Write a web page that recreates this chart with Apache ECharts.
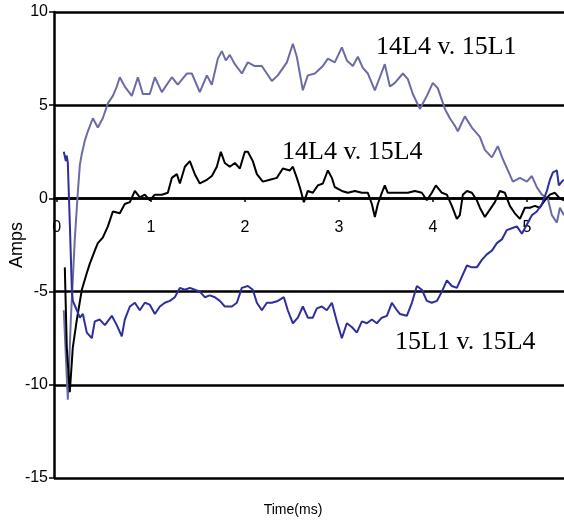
<!DOCTYPE html>
<html>
<head>
<meta charset="utf-8" />
<title>Amps</title>
<script src="https://cdn.jsdelivr.net/npm/echarts@6/dist/echarts.min.js"></script>
<style>
html,
body {
  margin: 0;
  padding: 0;
  background: #fff;
}
#main {
  width: 564px;
  height: 521px;
}
</style>
</head>
<body>
<div id="main"></div>
<script>
// 14L4 v. 15L1
var timeA = [0.074, 0.117, 0.149, 0.191, 0.223, 0.245, 0.266, 0.298, 0.330, 0.383, 0.436, 0.489, 0.543, 0.596, 0.638, 0.670, 0.723, 0.798, 0.862, 0.915, 0.989, 1.043, 1.117, 1.223, 1.287, 1.383, 1.436, 1.521, 1.596, 1.649, 1.713, 1.755, 1.798, 1.840, 1.894, 1.968, 2.032, 2.106, 2.181, 2.287, 2.351, 2.447, 2.511, 2.553, 2.617, 2.670, 2.745, 2.830, 2.883, 2.957, 3.032, 3.085, 3.149, 3.202, 3.255, 3.309, 3.383, 3.436, 3.489, 3.543, 3.596, 3.681, 3.734, 3.787, 3.862, 3.936, 4.000, 4.053, 4.128, 4.181, 4.234, 4.266, 4.340, 4.415, 4.500, 4.553, 4.628, 4.691, 4.745, 4.798, 4.851, 4.926, 5.000, 5.053, 5.106, 5.160, 5.223, 5.266, 5.319, 5.351, 5.394];
var ampA = [-6.0, -10.8, -6.5, -2.2, 0.3, 1.8, 2.4, 3.1, 3.6, 4.3, 3.8, 4.3, 5.1, 5.5, 6.0, 6.5, 6.0, 5.5, 6.5, 5.6, 5.6, 6.5, 5.7, 6.5, 6.1, 6.7, 6.7, 5.7, 6.6, 6.1, 7.5, 7.9, 7.4, 7.7, 7.2, 6.7, 7.3, 7.1, 7.1, 6.3, 6.6, 7.3, 8.3, 7.6, 5.8, 6.6, 6.7, 7.1, 7.5, 7.3, 8.1, 7.4, 7.1, 7.6, 7.0, 6.7, 5.8, 6.5, 7.2, 6.0, 6.2, 6.7, 6.4, 5.6, 4.8, 5.5, 6.2, 5.9, 4.8, 4.3, 3.9, 3.6, 4.4, 3.8, 3.3, 2.6, 2.2, 2.8, 2.1, 1.5, 0.9, 1.1, 0.9, 1.2, 0.6, 0.2, 0.0, -0.9, -1.3, -0.5, -0.9];

// 14L4 v. 15L4
var timeB = [0.085, 0.106, 0.138, 0.170, 0.213, 0.266, 0.319, 0.351, 0.404, 0.436, 0.489, 0.543, 0.596, 0.670, 0.723, 0.777, 0.830, 0.883, 0.936, 0.989, 1.043, 1.117, 1.181, 1.223, 1.277, 1.309, 1.362, 1.415, 1.468, 1.521, 1.596, 1.649, 1.702, 1.745, 1.787, 1.840, 1.894, 1.947, 2.000, 2.032, 2.085, 2.128, 2.191, 2.266, 2.340, 2.404, 2.479, 2.511, 2.553, 2.585, 2.628, 2.670, 2.723, 2.777, 2.830, 2.883, 2.926, 2.957, 3.032, 3.096, 3.170, 3.245, 3.309, 3.351, 3.383, 3.415, 3.457, 3.489, 3.521, 3.596, 3.670, 3.734, 3.809, 3.883, 3.936, 3.989, 4.032, 4.096, 4.149, 4.202, 4.255, 4.287, 4.319, 4.362, 4.415, 4.468, 4.500, 4.553, 4.606, 4.660, 4.713, 4.766, 4.819, 4.872, 4.926, 4.979, 5.032, 5.085, 5.138, 5.191, 5.245, 5.298, 5.351, 5.394];
var ampB = [-3.7, -8.0, -10.4, -8.0, -6.5, -4.9, -4.0, -3.5, -2.8, -2.4, -2.1, -1.5, -0.7, -0.8, -0.3, -0.2, 0.4, 0.05, 0.2, -0.1, 0.2, 0.2, 0.3, 1.1, 1.3, 0.8, 1.7, 2.0, 1.3, 0.8, 1.0, 1.2, 1.7, 2.5, 1.9, 1.7, 1.9, 1.6, 2.5, 2.5, 2.0, 1.3, 0.9, 1.0, 1.1, 1.6, 1.5, 1.7, 1.1, 0.6, -0.2, 0.4, 0.3, 0.7, 0.8, 1.5, 1.1, 0.6, 0.4, 0.3, 0.4, 0.3, 0.3, -0.3, -1.0, -0.3, 0.3, 0.7, 0.3, 0.3, 0.3, 0.3, 0.4, 0.3, -0.1, 0.3, 0.7, 0.3, 0.2, -0.4, -1.1, -0.9, 0.2, 0.4, 0.3, -0.1, -0.5, -1.0, -0.6, -0.2, 0.4, 0.3, -0.4, -0.8, -1.1, -0.5, -0.5, -0.4, -0.5, -0.1, 0.2, 0.3, 0.0, -0.1];

// 15L1 v. 15L4
var timeC = [0.074, 0.096, 0.106, 0.117, 0.138, 0.160, 0.170, 0.213, 0.245, 0.277, 0.319, 0.372, 0.404, 0.457, 0.511, 0.585, 0.638, 0.691, 0.723, 0.777, 0.830, 0.883, 0.936, 0.989, 1.043, 1.096, 1.149, 1.202, 1.255, 1.309, 1.362, 1.415, 1.468, 1.521, 1.574, 1.628, 1.681, 1.734, 1.787, 1.862, 1.915, 1.968, 2.032, 2.085, 2.128, 2.181, 2.234, 2.287, 2.351, 2.415, 2.457, 2.511, 2.564, 2.617, 2.670, 2.723, 2.766, 2.819, 2.872, 2.926, 2.979, 3.032, 3.085, 3.138, 3.191, 3.245, 3.298, 3.351, 3.404, 3.457, 3.511, 3.564, 3.617, 3.649, 3.723, 3.777, 3.830, 3.883, 3.936, 3.989, 4.043, 4.096, 4.149, 4.202, 4.255, 4.309, 4.362, 4.415, 4.468, 4.521, 4.574, 4.628, 4.681, 4.734, 4.787, 4.840, 4.894, 4.947, 5.000, 5.053, 5.106, 5.160, 5.213, 5.245, 5.277, 5.319, 5.340, 5.372, 5.394];
var ampC = [2.5, 2.0, 2.3, 1.9, -1.3, -4.9, -5.5, -6.0, -6.4, -6.2, -7.2, -7.5, -6.6, -6.5, -6.8, -6.3, -6.8, -7.4, -6.5, -5.8, -5.6, -6.0, -5.6, -5.7, -6.2, -5.8, -5.6, -5.5, -5.3, -4.8, -4.9, -4.8, -4.9, -5.0, -5.3, -5.2, -5.3, -5.5, -5.8, -5.8, -5.6, -4.8, -4.7, -4.9, -5.6, -6.0, -5.6, -5.6, -5.5, -5.3, -6.0, -6.7, -6.4, -5.8, -6.4, -6.4, -5.9, -5.8, -6.0, -5.6, -6.6, -7.5, -6.7, -6.9, -7.2, -6.6, -6.7, -6.5, -6.7, -6.4, -6.3, -5.6, -6.0, -6.2, -6.3, -5.6, -4.7, -4.9, -5.5, -5.6, -5.5, -5.0, -4.4, -4.7, -4.8, -4.2, -3.6, -3.7, -3.7, -3.3, -3.0, -2.8, -2.4, -2.2, -1.7, -1.6, -1.5, -1.9, -1.4, -0.9, -0.7, -0.3, 0.4, 1.0, 1.4, 1.5, 0.7, 0.9, 1.0];

var xTicks = [0, 1, 2, 3, 4, 5];
var seriesNames = ["14L4 v. 15L1", "14L4 v. 15L4", "15L1 v. 15L4"];

function pairs(xs, ys) {
  var out = [];
  for (var i = 0; i < xs.length; i++) {
    out.push([xs[i], ys[i]]);
  }
  return out;
}

var chart = echarts.init(document.getElementById("main"));
var sans = "Liberation Sans, Arial, sans-serif";
var serif = '26px "Liberation Serif", "Times New Roman", serif';

var option = {
  animation: false,
  backgroundColor: "#fff",
  grid: {
    left: 54,
    right: 0,
    top: 12,
    bottom: 43,
    containLabel: false,
    outerBoundsMode: "none"
  },
  xAxis: {
    type: "value",
    min: -0.03,
    max: 5.395,
    // axis sits on the zero line (offset up from the bottom edge)
    offset: -280,
    axisLine: {
      onZero: false,
      lineStyle: { color: "#000", width: 2.5 }
    },
    axisTick: {
      show: true,
      length: 4,
      customValues: xTicks,
      lineStyle: { color: "#000", width: 1.5 }
    },
    axisLabel: {
      customValues: xTicks,
      margin: 22,
      color: "#000",
      fontFamily: sans,
      fontSize: 16
    },
    splitLine: { show: false }
  },
  yAxis: {
    type: "value",
    min: -15,
    max: 10,
    interval: 5,
    name: "Amps",
    nameLocation: "middle",
    nameGap: 28,
    nameMoveOverlap: false,
    nameTextStyle: {
      color: "#000",
      fontFamily: sans,
      fontSize: 18
    },
    axisLine: {
      show: true,
      onZero: false,
      lineStyle: { color: "#000", width: 2.5 }
    },
    axisTick: {
      show: true,
      length: 5,
      lineStyle: { color: "#000", width: 1.5 }
    },
    axisLabel: {
      margin: 6,
      color: "#000",
      fontFamily: sans,
      fontSize: 16
    },
    splitLine: {
      show: true,
      lineStyle: { color: "#000", width: 2.5 }
    }
  },
  graphic: [
    {
      type: "text",
      x: 293,
      y: 510,
      style: {
        text: "Time(ms)",
        font: "14px " + sans,
        fill: "#000",
        align: "center",
        verticalAlign: "middle"
      }
    },
    {
      type: "text",
      x: 376,
      y: 47,
      style: { text: seriesNames[0], font: serif, fill: "#000", verticalAlign: "middle" }
    },
    {
      type: "text",
      x: 282,
      y: 152,
      style: { text: seriesNames[1], font: serif, fill: "#000", verticalAlign: "middle" }
    },
    {
      type: "text",
      x: 395,
      y: 342,
      style: { text: seriesNames[2], font: serif, fill: "#000", verticalAlign: "middle" }
    }
  ],
  series: [
    {
      name: seriesNames[0],
      type: "line",
      showSymbol: false,
      data: pairs(timeA, ampA),
      lineStyle: { color: "#6b6ba6", width: 2 }
    },
    {
      name: seriesNames[1],
      type: "line",
      showSymbol: false,
      data: pairs(timeB, ampB),
      lineStyle: { color: "#000", width: 2 }
    },
    {
      name: seriesNames[2],
      type: "line",
      showSymbol: false,
      data: pairs(timeC, ampC),
      lineStyle: { color: "#2e2e9c", width: 2 }
    }
  ]
};
chart.setOption(option);
</script>
</body>
</html>
